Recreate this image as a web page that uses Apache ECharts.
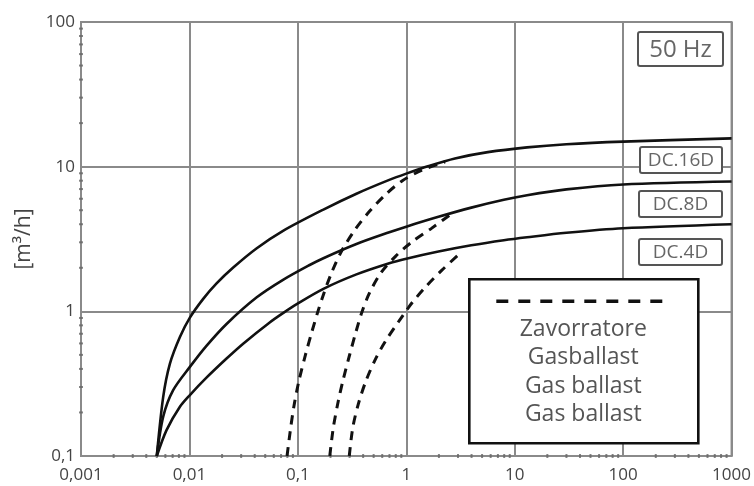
<!DOCTYPE html>
<html>
<head>
<meta charset="utf-8">
<script src="https://cdn.jsdelivr.net/npm/echarts@6/dist/echarts.min.js"></script>
<style>html,body{margin:0;padding:0;background:#fff}#c{width:754px;height:486px}</style>
</head>
<body>
<div id="c"></div>
<script>
// ---- data ----
const xTickLabels = ['0,001', '0,01', '0,1', '1', '10', '100', '1000'];
const yTickLabels = ['0,1', '1', '10', '100'];

const dc16X = [0.005, 0.00573, 0.00661, 0.00817, 0.0101, 0.0134, 0.0178, 0.0252, 0.0415, 0.073, 0.172, 0.347, 0.697, 1.0, 1.61, 2.81, 5.65, 13, 30, 100, 1000];
const dc16Y = [0.1, 0.256, 0.435, 0.665, 0.905, 1.22, 1.56, 2.0, 2.72, 3.6, 5.05, 6.5, 8.1, 8.95, 10.1, 11.4, 12.6, 13.6, 14.3, 14.9, 15.7];

const dc8X = [0.005, 0.00573, 0.00708, 0.0101, 0.01436, 0.022, 0.0415, 0.073, 0.1285, 0.172, 0.347, 0.697, 1, 1.98, 3.98, 7.94, 13, 30, 100, 1000];
const dc8Y = [0.1, 0.187, 0.285, 0.413, 0.577, 0.818, 1.245, 1.65, 2.09, 2.33, 2.92, 3.52, 3.85, 4.5, 5.21, 5.9, 6.35, 6.97, 7.53, 7.89];

const dc4X = [0.005, 0.00615, 0.00817, 0.0101, 0.01436, 0.022, 0.0313, 0.055, 0.073, 0.0968, 0.172, 0.347, 0.697, 1, 1.98, 3.98, 7.94, 13, 30, 100, 1000];
const dc4Y = [0.1, 0.151, 0.219, 0.264, 0.348, 0.472, 0.598, 0.838, 0.973, 1.117, 1.43, 1.80, 2.15, 2.31, 2.59, 2.86, 3.10, 3.25, 3.49, 3.75, 4.0];

const gb16X = [0.0795, 0.0859, 0.092, 0.102, 0.1175, 0.135, 0.153, 0.173, 0.206, 0.254, 0.335, 0.458, 0.65, 0.92, 1.40, 2.28];
const gb16Y = [0.1, 0.157, 0.221, 0.328, 0.5, 0.726, 0.995, 1.32, 1.87, 2.62, 3.65, 4.91, 6.46, 8.0, 9.46, 10.8];

const gb8X = [0.197, 0.212, 0.235, 0.261, 0.30, 0.345, 0.39, 0.458, 0.585, 0.80, 1.135, 1.72, 2.62];
const gb8Y = [0.1, 0.156, 0.236, 0.334, 0.499, 0.73, 0.99, 1.34, 1.85, 2.41, 3.03, 3.76, 4.73];

const gb4X = [0.298, 0.321, 0.362, 0.425, 0.524, 0.645, 0.851, 0.98, 1.135, 1.5, 2.12, 3.23];
const gb4Y = [0.1, 0.157, 0.23, 0.331, 0.473, 0.624, 0.851, 0.989, 1.15, 1.47, 1.92, 2.57];

const legendLines = ['Zavorratore', 'Gasballast', 'Gas ballast', 'Gas ballast'];
const curveLabels = ['DC.16D', 'DC.8D', 'DC.4D'];
const freqLabel = '50 Hz';
const yAxisName = '[m\u00b3/h]';

// ---- build ----
function pairs(xs, ys) { return xs.map((x, i) => [x, ys[i]]); }
const xMin = 0.001, xMax = 1000, yMin = 0.1, yMax = 100;
const minorX = [], minorY = [];
for (let e = -3; e < 3; e++) for (let k = 2; k <= 9; k++) minorX.push([k * Math.pow(10, e), yMin]);
for (let e = -1; e < 2; e++) for (let k = 2; k <= 9; k++) minorY.push([xMin, k * Math.pow(10, e)]);

const gridCol = '#8a8a8a';
const font = 'Open Sans';
const solid = (name, xs, ys) => ({
  name, type: 'line', data: pairs(xs, ys), smooth: 0.3, showSymbol: false, symbol: 'none',
  lineStyle: { color: '#111', width: 2.6 }, z: 5
});
const dashed = (name, xs, ys) => ({
  name, type: 'line', data: pairs(xs, ys), smooth: 0.3, showSymbol: false, symbol: 'none',
  lineStyle: { color: '#111', width: 3, type: [9, 7] }, z: 5
});

const chart = echarts.init(document.getElementById('c'), null, { renderer: 'canvas' });
const labelBox = (text, x, y, w, h, fs) => ({
  type: 'group', left: x, top: y, z: 100,
  children: [
    { type: 'rect', shape: { x: 0, y: 0, width: w, height: h, r: 2 }, style: { fill: '#fff', stroke: '#555', lineWidth: 2 }, z: 100 },
    { type: 'text', x: w / 2, y: h / 2 + 1, style: { text: text, fill: '#666', font: fs + 'px "' + font + '"', align: 'center', verticalAlign: 'middle' }, z: 101 }
  ]
});

chart.setOption({
  animation: false,
  backgroundColor: '#fff',
  grid: { left: 81, right: 22, top: 22, bottom: 30, show: true, borderColor: gridCol, borderWidth: 2 },
  xAxis: {
    type: 'log', logBase: 10, min: xMin, max: xMax,
    axisLine: { show: true, lineStyle: { color: gridCol, width: 2 } },
    axisTick: { show: false },
    splitLine: { show: true, lineStyle: { color: gridCol, width: 2 } },
    axisLabel: {
      color: '#444', fontSize: 17, fontFamily: font, margin: 11,
      formatter: v => xTickLabels[Math.round(Math.log10(v)) + 3]
    }
  },
  yAxis: {
    type: 'log', logBase: 10, min: yMin, max: yMax,
    name: yAxisName, nameLocation: 'middle', nameRotate: 90, nameGap: 44,
    nameTextStyle: { color: '#444', fontSize: 21, fontFamily: font },
    axisLine: { show: true, lineStyle: { color: gridCol, width: 2 } },
    axisTick: { show: false },
    splitLine: { show: true, lineStyle: { color: gridCol, width: 2 } },
    axisLabel: {
      color: '#444', fontSize: 17, fontFamily: font, margin: 6,
      formatter: v => yTickLabels[Math.round(Math.log10(v)) + 1]
    }
  },
  series: [
    { type: 'scatter', data: minorX, symbol: 'rect', symbolSize: [2, 4], itemStyle: { color: '#666' }, silent: true, z: 3 },
    { type: 'scatter', data: minorY, symbol: 'rect', symbolSize: [4, 2], itemStyle: { color: '#666' }, silent: true, z: 3 },
    solid(curveLabels[0], dc16X, dc16Y),
    solid(curveLabels[1], dc8X, dc8Y),
    solid(curveLabels[2], dc4X, dc4Y),
    dashed('gb16', gb16X, gb16Y),
    dashed('gb8', gb8X, gb8Y),
    dashed('gb4', gb4X, gb4Y)
  ],
  graphic: [
    labelBox(freqLabel, 637, 31, 85, 34, 24),
    labelBox(curveLabels[0], 639, 146, 82, 26, 19),
    labelBox(curveLabels[1], 638, 190, 83, 26, 19),
    labelBox(curveLabels[2], 638, 238, 83, 26, 19),
    {
      type: 'group', left: 468, top: 278, z: 100,
      children: [
        { type: 'rect', shape: { x: 0, y: 0, width: 229, height: 164 }, style: { fill: '#fff', stroke: '#111', lineWidth: 2.6 }, z: 100 },
        { type: 'line', shape: { x1: 27, y1: 22, x2: 200, y2: 22 }, style: { stroke: '#111', lineWidth: 3.5, lineDash: [12, 10] }, z: 101 }
      ].concat(legendLines.map((t, i) => ({
        type: 'text', x: 114, y: 50 + i * 28.5,
        style: { text: t, fill: '#555', font: '23px "' + font + '"', align: 'center', verticalAlign: 'middle' }, z: 101
      })))
    }
  ]
});
</script>
</body>
</html>
